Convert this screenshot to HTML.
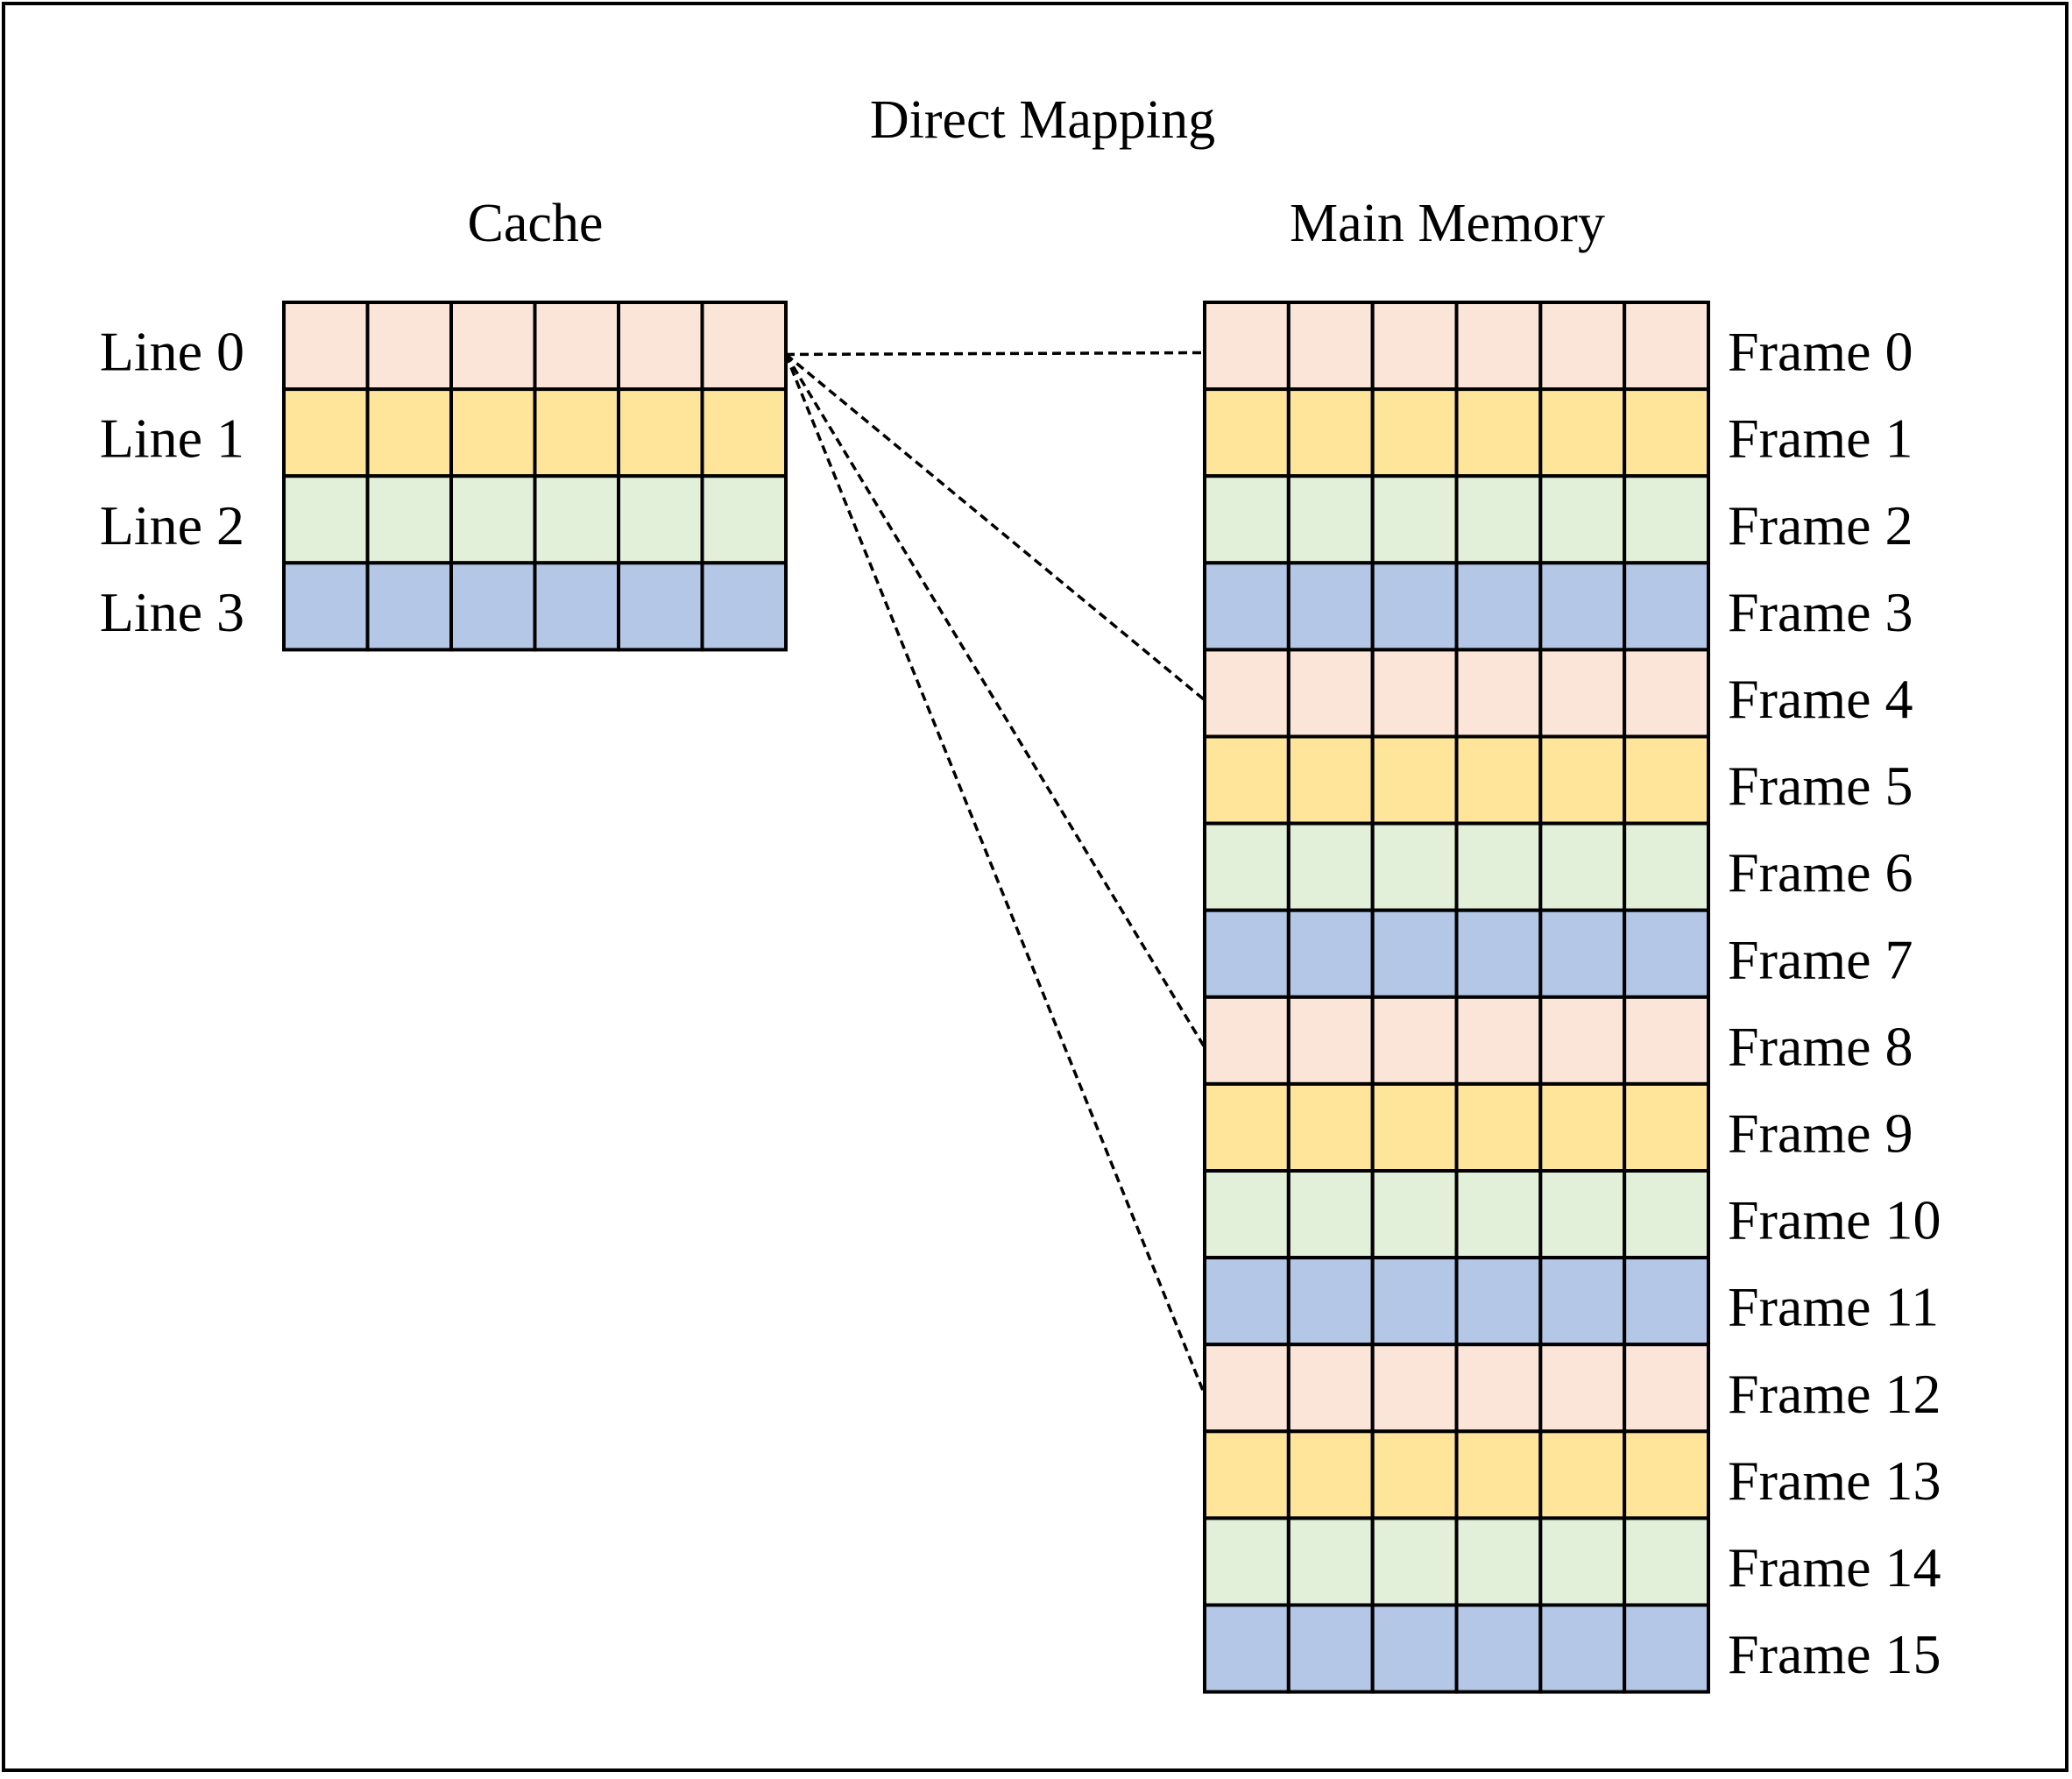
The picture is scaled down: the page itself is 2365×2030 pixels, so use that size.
<!DOCTYPE html>
<html><head><meta charset="utf-8"><style>
html,body{margin:0;padding:0;background:#fff;}
svg text{font-family:"Liberation Serif",serif;fill:#000;}
</style></head><body>
<svg id="chart" width="2365" height="2025" viewBox="0 0 2365 2025" xmlns="http://www.w3.org/2000/svg">
<rect x="4" y="4" width="2355" height="2016" fill="#fff" stroke="#000" stroke-width="4"/>
<text x="1190" y="157" font-size="62" text-anchor="middle">Direct Mapping</text>
<text x="611" y="275" font-size="62" text-anchor="middle">Cache</text>
<text x="1652" y="275" font-size="62" text-anchor="middle">Main Memory</text>
<g id="g-links"></g>
<g id="g-cache"></g>
<g id="g-mem"></g>
</svg>
<script>
const cacheLines = ["Line 0","Line 1","Line 2","Line 3"];
const memFrames = ["Frame 0","Frame 1","Frame 2","Frame 3","Frame 4","Frame 5","Frame 6","Frame 7","Frame 8","Frame 9","Frame 10","Frame 11","Frame 12","Frame 13","Frame 14","Frame 15"];
const rowColors = ["#fae5d8","#ffe59a","#e2efd9","#b4c7e7"];
const mappedFrames = [0,4,8,12];
const blocksPerRow = 6;

const NS="http://www.w3.org/2000/svg";
const rowH=99.1, gridTop=345;
const cacheX=324, cacheW=573, memX=1375, memW=575;
function yRow(i){return gridTop+i*rowH;}
function mk(tag,attrs,parent){const e=document.createElementNS(NS,tag);for(const k in attrs)e.setAttribute(k,attrs[k]);parent.appendChild(e);return e;}

function drawGrid(g,x0,w,labels,labelX,anchor,prefix){
  const cw=w/blocksPerRow;
  labels.forEach((lab,i)=>{
    const y=yRow(i);
    for(let c=0;c<blocksPerRow;c++){
      const r=mk('rect',{x:x0+c*cw,y:y,width:cw,height:rowH,fill:rowColors[i%rowColors.length],stroke:'#000','stroke-width':4},g);
      
      
    }
    const t=mk('text',{x:labelX,y:y+rowH/2+28,'font-size':64,'text-anchor':anchor},g);
    t.textContent=lab;
    
    
  });
}
drawGrid(document.getElementById('g-cache'),cacheX,cacheW,cacheLines,279,'end','cache-line');
drawGrid(document.getElementById('g-mem'),memX,memW,memFrames,1972,'start','memory-frame');

const gl=document.getElementById('g-links');
mappedFrames.forEach(f=>{
  const l=mk('line',{x1:cacheX+cacheW,y1:yRow(0)+rowH*0.6,x2:memX,y2:yRow(f)+rowH*0.58,stroke:'#000','stroke-width':3.5,'stroke-dasharray':'10,6'},gl);
  
  
});
</script>
</body></html>
